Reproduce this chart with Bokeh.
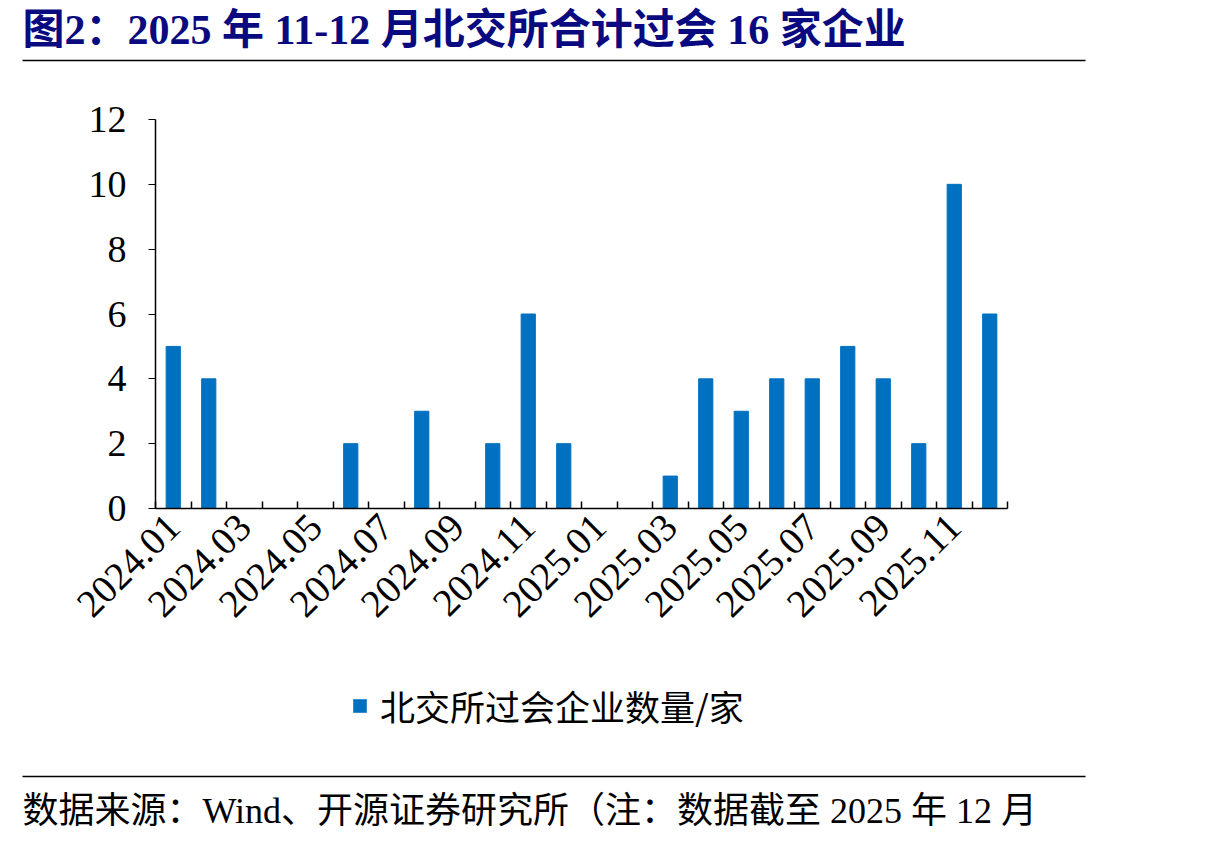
from bokeh.plotting import figure
from bokeh.models import (Range1d, FixedTicker, Legend, LegendItem, ColumnDataSource)
from bokeh.layouts import column
from bokeh.core.properties import value
from bokeh.embed import file_html
from bokeh.resources import INLINE

months = ["2024.01", "2024.02", "2024.03", "2024.04", "2024.05", "2024.06",
          "2024.07", "2024.08", "2024.09", "2024.10", "2024.11", "2024.12",
          "2025.01", "2025.02", "2025.03", "2025.04", "2025.05", "2025.06",
          "2025.07", "2025.08", "2025.09", "2025.10", "2025.11", "2025.12"]
approved = [5, 4, 0, 0, 0, 2, 0, 3, 0, 2, 6, 2,
            0, 0, 1, 4, 3, 4, 4, 5, 4, 2, 10, 6]
y_ticks = [0, 2, 4, 6, 8, 10, 12]

title_text = "图2：2025 年 11-12 月北交所合计过会 16 家企业"
series_name = "北交所过会企业数量/家"
source_text = "数据来源：Wind、开源证券研究所（注：数据截至 2025 年 12 月"

SERIF = "Liberation Serif, Noto Sans CJK SC"
BAR_COLOR = "#0070c0"
W = 1100


def banner(height, text, text_y, line_y, color, size, style):
    f = figure(width=W, height=height, x_range=Range1d(0, W), y_range=Range1d(0, height),
               toolbar_location=None, output_backend="svg", min_border=0, frame_align=False)
    f.axis.visible = False
    f.grid.visible = False
    f.outline_line_color = None
    f.text(x=[22], y=[text_y], text=[text], text_font=value(SERIF), text_font_size=size,
           text_font_style=style, text_color=color, text_baseline="middle")
    f.segment(x0=[22], y0=[line_y], x1=[1085], y1=[line_y], line_color="black", line_width=1.5)
    return f


top = banner(78, title_text, 49, 18, "#0a0a80", "42px", "bold")
bottom = banner(168, source_text, 26, 60, "black", "36px", "normal")

idx = list(range(len(months)))
src = ColumnDataSource(data={"x": idx, "v": approved, "m": months})

p = figure(frame_width=852, frame_height=389, x_range=Range1d(-0.5, 23.5), y_range=Range1d(0, 12),
           toolbar_location=None, output_backend="svg", frame_align=False,
           min_border_left=155, min_border_right=93, min_border_top=41, min_border_bottom=160)
p.outline_line_color = None
p.grid.visible = False

r = p.vbar(x="x", top="v", width=0.4, source=src, color=BAR_COLOR)

p.yaxis.ticker = FixedTicker(ticks=y_ticks, minor_ticks=[])
p.yaxis.major_tick_out = 7
p.yaxis.major_tick_in = 0
p.yaxis.major_label_standoff = 22
p.yaxis.major_label_text_font = SERIF
p.yaxis.major_label_text_font_size = "38px"
p.yaxis.major_label_text_color = "black"
p.yaxis.axis_line_color = "black"
p.yaxis.axis_line_width = 1.5

p.xaxis.ticker = FixedTicker(ticks=idx[::2], minor_ticks=[i - 0.5 for i in range(len(months) + 1)])
p.xaxis.major_label_overrides = {i: months[i] for i in idx}
p.xaxis.major_tick_in = 0
p.xaxis.major_tick_out = 0
p.xaxis.minor_tick_in = 7
p.xaxis.minor_tick_out = 0
p.xaxis.minor_tick_line_color = "black"
p.xaxis.minor_tick_line_width = 1.5
p.xaxis.major_label_orientation = 0.785
p.xaxis.major_label_standoff = 12
p.xaxis.major_label_text_font = SERIF
p.xaxis.major_label_text_font_size = "39px"
p.xaxis.major_label_text_color = "black"
p.xaxis.axis_line_color = "black"
p.xaxis.axis_line_width = 1.5

# legend sits in the lower banner; its swatch comes from a zero-height bar there
proxy = bottom.vbar(x=[0], top=[0], width=0.4, fill_color=BAR_COLOR, line_color=None)
legend = Legend(items=[LegendItem(label=series_name, renderers=[proxy])],
                orientation="horizontal", location=(351, 105),
                label_text_font="Noto Sans CJK SC", label_text_font_size="35px",
                label_text_color="black",
                glyph_width=17, glyph_height=17, label_standoff=12, padding=4,
                border_line_color=None, background_fill_alpha=0)
bottom.add_layout(legend)

layout = column(top, p, bottom, spacing=0)
open("out.html", "w").write(file_html(layout, INLINE))
